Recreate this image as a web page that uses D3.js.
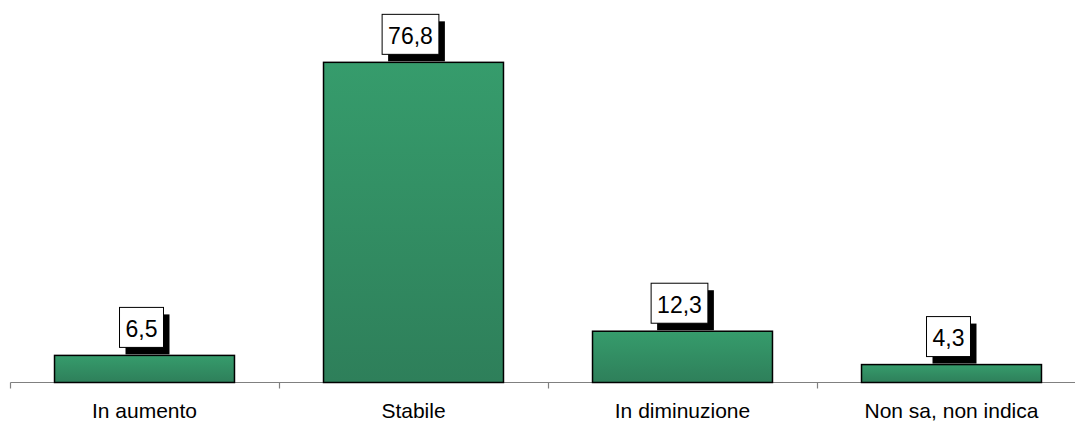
<!DOCTYPE html>
<html><head><meta charset="utf-8">
<script src="https://cdn.jsdelivr.net/npm/d3@7"></script>
<style>body{margin:0;background:#fff}svg{display:block}</style>
</head><body>
<svg id="c" width="1075" height="423"></svg>
<script>
const categories = ["In aumento", "Stabile", "In diminuzione", "Non sa, non indica"];
const values = [6.5, 76.8, 12.3, 4.3];
const valueLabels = ["6,5", "76,8", "12,3", "4,3"];

const svg = d3.select("#c");
const x = d3.scaleBand().domain(categories).range([10, 1086]).paddingInner(0.331).paddingOuter(0.1655);
const y = d3.scaleLinear().domain([0, 80]).range([382.5, 49]);

const defs = svg.append("defs");
const g = defs.append("linearGradient").attr("id", "gr").attr("x1", 0).attr("y1", 0).attr("x2", 0).attr("y2", 1);
g.append("stop").attr("offset", "0%").attr("stop-color", "#369c6c");
g.append("stop").attr("offset", "100%").attr("stop-color", "#2e7f5a");

// axis
const axisG = svg.append("g").attr("transform", "translate(0,382.5)");
axisG.append("line").attr("x1", 10.5).attr("x2", 1086).attr("stroke", "#808080").attr("stroke-width", 1.2);
const tickXs = d3.range(categories.length + 1).map(i => 10.5 + i * x.step());
axisG.selectAll("line.t").data(tickXs).join("line").attr("class", "t")
  .attr("x1", d => d).attr("x2", d => d).attr("y1", 0).attr("y2", 6)
  .attr("stroke", "#808080").attr("stroke-width", 1.2);

// bars
svg.selectAll("rect.bar").data(values).join("rect").attr("class", "bar")
  .attr("x", (d, i) => x(categories[i]))
  .attr("y", d => y(d))
  .attr("width", x.bandwidth())
  .attr("height", d => y(0) - y(d))
  .attr("fill", "url(#gr)")
  .attr("stroke", "#000").attr("stroke-width", 1.5);

// category labels
svg.selectAll("text.cat").data(categories).join("text").attr("class", "cat")
  .attr("x", d => x(d) + x.bandwidth() / 2)
  .attr("y", 418)
  .attr("text-anchor", "middle")
  .attr("font-family", "Liberation Sans, Arial, sans-serif")
  .attr("font-size", 21)
  .attr("fill", "#000")
  .text(d => d);

// value labels
const lbl = svg.selectAll("g.lbl").data(values).join("g").attr("class", "lbl");
lbl.each(function(d, i) {
  const gg = d3.select(this);
  const cx = x(categories[i]) + x.bandwidth() / 2 - 3;
  const boxBottom = y(d) - 8;
  const t = gg.append("text")
    .attr("x", cx).attr("y", boxBottom - 10.5)
    .attr("text-anchor", "middle")
    .attr("font-family", "Liberation Sans, Arial, sans-serif")
    .attr("font-size", 23)
    .text(valueLabels[i]);
  const bb = t.node().getBBox();
  const w = bb.width + 12, h = 40;
  const bx = cx - w / 2, by = boxBottom - h;
  gg.insert("rect", "text").attr("x", bx + 6).attr("y", by + 7).attr("width", w).attr("height", h).attr("fill", "#000");
  gg.insert("rect", "text").attr("x", bx).attr("y", by).attr("width", w).attr("height", h)
    .attr("fill", "#fff").attr("stroke", "#000").attr("stroke-width", 1);
});
</script>
</body></html>
